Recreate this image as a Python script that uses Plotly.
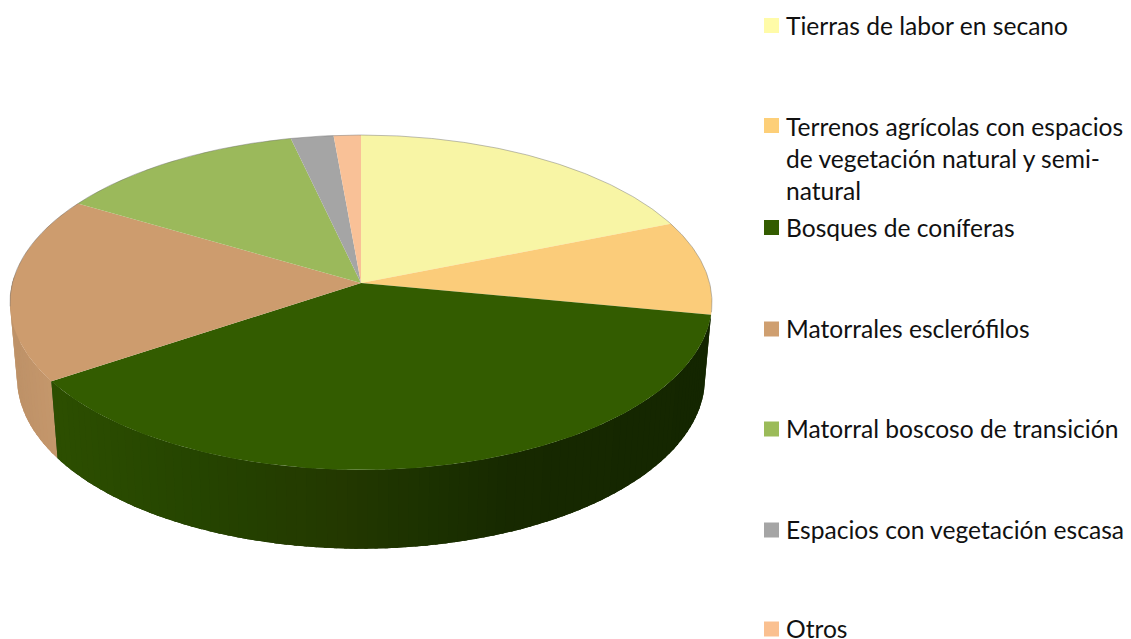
import math
import plotly.graph_objects as go

# Data (percent share of each land-cover class)
categories = [
    "Tierras de labor en secano",
    "Terrenos agrícolas con espacios<br>de vegetación natural y semi-<br>natural",
    "Bosques de coníferas",
    "Matorrales esclerófilos",
    "Matorral boscoso de transición",
    "Espacios con vegetación escasa",
    "Otros",
]
values = [18.9, 9.1, 37.6, 17.9, 12.9, 2.2, 1.4]
colors = ["#F8F5A5", "#FBCC7A", "#335C00", "#CD9C6E", "#9BB95B", "#A5A5A5", "#F9C197"]
legend_colors = ["#FFFBA8", "#FDCF78", "#335C00", "#CF9F70", "#9BBB59", "#A5A5A5", "#FAC090"]
legend_y = [25.5, 125.5, 227.5, 329, 429, 530, 629]

# Projection of the pie disc to the page (perspective tilt)
CX, CY = 361.0, 283.0
K, A, B = 0.1164, 165.2, 348.6
X_SHRINK, Y_GROW, DEPTH = 0.98, 1.02, 75.0
FONT = "Lato"


def top(theta):
    u, v = math.sin(theta), math.cos(theta)
    d = 1 + K * v
    return CX + B * u / d, CY - A * v / d


def bottom(theta):
    x, y = top(theta)
    return CX + (x - CX) * X_SHRINK, CY + DEPTH + (y - CY) * Y_GROW


def arc(fn, a, b, n=None):
    n = n or max(2, int(abs(b - a) / math.radians(0.5)))
    pts = [fn(a + (b - a) * i / n) for i in range(n + 1)]
    return [p[0] for p in pts], [p[1] for p in pts]


def lerp_color(stops, x):
    if x <= stops[0][0]:
        c = stops[0][1]
        return f"rgb({c[0]},{c[1]},{c[2]})"
    for (x0, c0), (x1, c1) in zip(stops, stops[1:]):
        if x <= x1:
            t = (x - x0) / (x1 - x0)
            c = [round(c0[i] + (c1[i] - c0[i]) * t) for i in range(3)]
            return f"rgb({c[0]},{c[1]},{c[2]})"
    c = stops[-1][1]
    return f"rgb({c[0]},{c[1]},{c[2]})"


green_side = [(58, (44, 78, 0)), (200, (37, 68, 0)), (340, (35, 56, 0)),
              (420, (28, 50, 0)), (510, (23, 41, 0)), (710, (20, 38, 0))]
tan_side = [(15, (190, 146, 104)), (58, (198, 152, 108))]

fig = go.Figure()


def poly(xs, ys, color):
    fig.add_trace(go.Scatter(x=xs, y=ys, mode="lines", fill="toself", fillcolor=color,
                             line=dict(width=0), hoverinfo="skip", showlegend=False))


def side(a, b, stops):
    tx, ty = arc(top, a, b)
    bx, by = arc(bottom, a, b)
    poly(tx + bx[::-1], ty + by[::-1], lerp_color(stops, sum(tx) / len(tx)))
    steps = max(2, int(abs(b - a) / math.radians(1.5)))
    ov = math.radians(0.5)
    for i in range(steps):
        t0 = a + (b - a) * i / steps
        t1 = min(t0 + (b - a) / steps + ov, b)
        tx, ty = arc(top, t0, t1, 4)
        bx, by = arc(bottom, t0, t1, 4)
        poly(tx + bx[::-1], ty + by[::-1], lerp_color(stops, (tx[0] + tx[-1]) / 2))


# Slice boundaries, derived from the values
edges = [0.0]
for val in values:
    edges.append(edges[-1] + val / sum(values) * 2 * math.pi)

# Visible rim: tan then conifer slice
side(edges[3], math.radians(272), tan_side)
side(edges[2], edges[3], green_side)

# Top faces
for i, col in enumerate(colors):
    ax, ay = arc(top, edges[i], edges[i + 1])
    poly([CX] + ax + [CX], [CY] + ay + [CY], col)

# Thin silhouette along the back of the disc
bx_, by_ = arc(top, math.radians(262), math.radians(460))
fig.add_trace(go.Scatter(x=bx_, y=by_, mode="lines", line=dict(color="rgba(110,110,110,0.45)", width=1),
                         hoverinfo="skip", showlegend=False))

# Legend
fig.add_trace(go.Scatter(x=[771.5] * len(categories), y=legend_y, mode="markers",
                         marker=dict(symbol="square", size=15, color=legend_colors, line=dict(width=0)),
                         hoverinfo="skip", showlegend=False))
for name, y in zip(categories, legend_y):
    lines = name.count("<br>")
    fig.add_annotation(x=786, y=y - 0.5, text=name, xref="x", yref="y", xanchor="left",
                       yanchor="top" if lines else "middle", align="left", showarrow=False,
                       yshift=13 if lines else 0, borderpad=0, borderwidth=0,
                       font=dict(family=FONT, size=24.6, color="#111111"))

fig.update_xaxes(range=[0, 1131], visible=False, fixedrange=True)
fig.update_yaxes(range=[639, 0], visible=False, fixedrange=True)
fig.update_layout(width=1131, height=639, margin=dict(l=0, r=0, t=0, b=0),
                  paper_bgcolor="white", plot_bgcolor="white", showlegend=False)
fig.write_html("out.html", config={"displayModeBar": False},
               post_script="document.body.style.margin='0';document.body.style.overflow='hidden';")
